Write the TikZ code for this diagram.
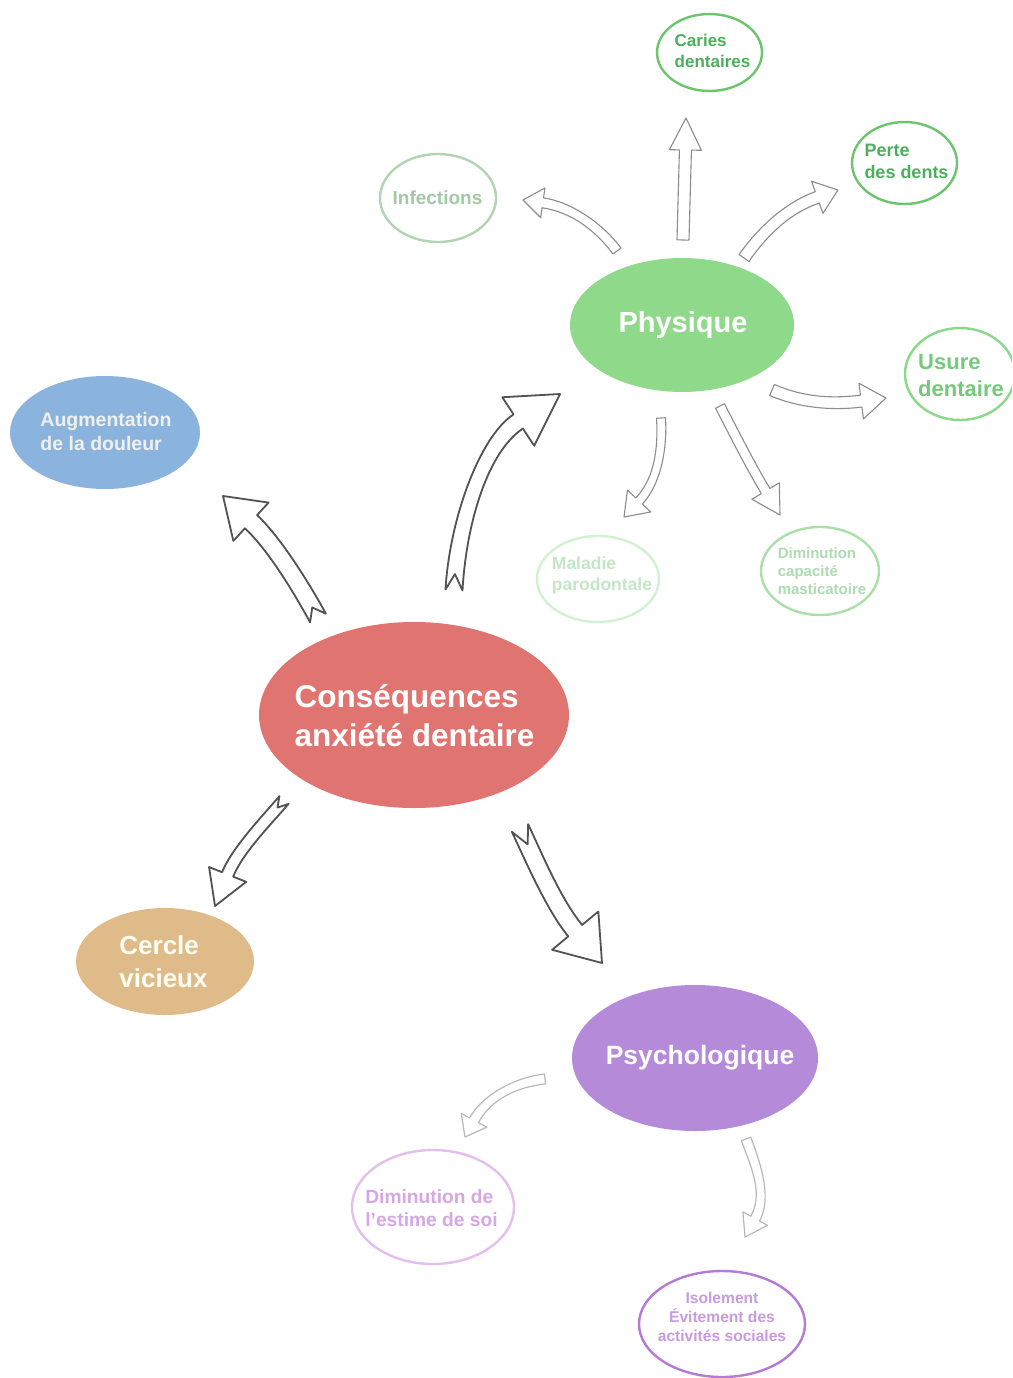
\documentclass[tikz,border=0pt]{standalone}
\usepackage{fontspec}
\setmainfont{Liberation Sans}
\usetikzlibrary{shapes.geometric,calc}

\definecolor{redfill}{HTML}{E07470}
\definecolor{greenfill}{HTML}{8FD98A}
\definecolor{bluefill}{HTML}{8AB4DD}
\definecolor{tanfill}{HTML}{DFBB8A}
\definecolor{purplefill}{HTML}{B48AD9}
\definecolor{gdark}{HTML}{6CC46C}
\definecolor{gdarkt}{HTML}{4DAE5C}
\definecolor{ginf}{HTML}{B2D4B2}
\definecolor{ginft}{HTML}{A3C8A6}
\definecolor{gusu}{HTML}{8AD88A}
\definecolor{gusut}{HTML}{76C97A}
\definecolor{gmal}{HTML}{D2F0D2}
\definecolor{gmalt}{HTML}{C3E6C5}
\definecolor{gmas}{HTML}{A8E0A8}
\definecolor{gmast}{HTML}{ADDCB0}
\definecolor{pest}{HTML}{E4BEEF}
\definecolor{pestt}{HTML}{D6A6E6}
\definecolor{piso}{HTML}{B47AD6}
\definecolor{pisot}{HTML}{C89AE0}

\newcommand\fsz[2]{\fontsize{#1}{#2}\selectfont\bfseries}

% #1 style, #2 start, #3 control1, #4 control2, #5 tip, #6 half shaft width,
% #7 half head width, #8 head length, #9 tail notch depth
\newcommand\hollowarrow[9]{%
  \coordinate (hSl) at ($(#2)!#6!90:(#3)$);
  \coordinate (hSr) at ($(#2)!#6!-90:(#3)$);
  \coordinate (hB) at ($(#5)!#8!(#4)$);
  \coordinate (hBl) at ($(hB)!#6!90:(#5)$);
  \coordinate (hBr) at ($(hB)!#6!-90:(#5)$);
  \coordinate (hHl) at ($(hB)!#7!90:(#5)$);
  \coordinate (hHr) at ($(hB)!#7!-90:(#5)$);
  \coordinate (hN) at ($(#2)!#9!(#3)$);
  \draw[#1] (hSl) .. controls ($(#3)+(hSl)-(#2)$) and ($(#4)+(hBl)-(hB)$) .. (hBl)
     -- (hHl) -- (#5) -- (hHr) -- (hBr)
     .. controls ($(#4)+(hBr)-(hB)$) and ($(#3)+(hSr)-(#2)$) .. (hSr)
     -- (hN) -- cycle;
}

\tikzset{
  bigarrow/.style={draw=black!68, line width=1.8pt, line join=round, fill=white},
  subarrow/.style={draw=black!45, line width=1.1pt, line join=round, fill=white},
  lightarrow/.style={draw=black!28, line width=1.2pt, line join=round, fill=white},
  filledell/.style={ellipse, inner sep=0pt, outer sep=0pt},
  outlineell/.style={ellipse, inner sep=0pt, outer sep=0pt, line width=2.4pt, fill=white},
  lbl/.style={inner sep=0pt, align=left},
}

\begin{document}
\begin{tikzpicture}[x=1pt,y=-1pt]
\useasboundingbox (0,0) rectangle (1012,1378);
\clip (0,0) rectangle (1012,1378);
\fill[white] (0,0) rectangle (1012,1378);

% ---- arrow coordinates ----
\coordinate (a1s) at (617,251); \coordinate (a1c) at (600,228); \coordinate (a1d) at (572,207); \coordinate (a1e) at (523,200);
\coordinate (a2s) at (683,240); \coordinate (a2c) at (684,200); \coordinate (a2d) at (685,170); \coordinate (a2e) at (686,118);
\coordinate (a3s) at (744,258); \coordinate (a3c) at (765,228); \coordinate (a3d) at (790,207); \coordinate (a3e) at (838,190);
\coordinate (a4s) at (772,390); \coordinate (a4c) at (800,402); \coordinate (a4d) at (830,405); \coordinate (a4e) at (886,398);
\coordinate (a5s) at (661,418); \coordinate (a5c) at (663,450); \coordinate (a5d) at (657,482); \coordinate (a5e) at (624,517);
\coordinate (a6s) at (720,406); \coordinate (a6c) at (735,435); \coordinate (a6d) at (750,465); \coordinate (a6e) at (780,515);
\coordinate (a7s) at (318,618); \coordinate (a7c) at (300,585); \coordinate (a7d) at (273,542); \coordinate (a7e) at (223,496);
\coordinate (a8s) at (454,590); \coordinate (a8c) at (458,520); \coordinate (a8d) at (484,444); \coordinate (a8e) at (560,394);
\coordinate (a9s) at (284,800); \coordinate (a9c) at (265,822); \coordinate (a9d) at (237,851); \coordinate (a9e) at (215,906);
\coordinate (a10s) at (520,828); \coordinate (a10c) at (535,860); \coordinate (a10d) at (554,905); \coordinate (a10e) at (602,963);
\coordinate (a11s) at (545,1079); \coordinate (a11c) at (515,1082); \coordinate (a11d) at (486,1098); \coordinate (a11e) at (465,1137);
\coordinate (a12s) at (746,1139); \coordinate (a12c) at (758,1170); \coordinate (a12d) at (767,1197); \coordinate (a12e) at (745,1237);

% ---- filled nodes ----
\node[filledell, fill=greenfill, minimum width=224pt, minimum height=134pt] (phys) at (682,325) {};
\node[lbl, text=white, font=\fsz{29}{34}] (physt) at (683,325) {Physique};
\node[filledell, fill=redfill, minimum width=310pt, minimum height=186pt] (cons) at (414,715) {};
\node[lbl, text=white, font=\fsz{31.5}{39}] (const) at (414.5,716) {Conséquences\\anxiété dentaire};
\node[filledell, fill=bluefill, minimum width=190pt, minimum height=113pt] (augm) at (105,432.5) {};
\node[lbl, text=white!94!black, font=\fsz{19.5}{24}] (augmt) at (106,432) {Augmentation\\de la douleur};
\node[filledell, fill=tanfill, minimum width=178pt, minimum height=107pt] (cerc) at (165,961.5) {};
\node[lbl, text=white!95!yellow, font=\fsz{26}{33}] (cerct) at (163.5,961.5) {Cercle\\vicieux};
\node[filledell, fill=purplefill, minimum width=246pt, minimum height=146pt] (psyc) at (695,1058) {};
\node[lbl, text=white, font=\fsz{26.5}{32}] (psyct) at (700,1058) {Psychologique};

% ---- outlined nodes ----
\node[outlineell, draw=gdark, minimum width=105pt, minimum height=77pt] (cari) at (709.5,52.5) {};
\node[lbl, text=gdarkt, font=\fsz{17}{21}] (carit) at (712.5,50.5) {Caries\\dentaires};
\node[outlineell, draw=gdark, minimum width=105pt, minimum height=82pt] (pert) at (904.5,163) {};
\node[lbl, text=gdarkt, font=\fsz{18}{22}] (pertt) at (906.5,161) {Perte\\des dents};
\node[outlineell, draw=ginf, minimum width=116pt, minimum height=88pt] (infe) at (438,198) {};
\node[lbl, text=ginft, font=\fsz{19}{23}] (infet) at (437.5,198) {Infections};
\node[outlineell, draw=gusu, minimum width=110pt, minimum height=92pt] (usur) at (960,374) {};
\node[lbl, text=gusut, font=\fsz{22}{27}] (usurt) at (961,375.5) {Usure\\dentaire};
\node[outlineell, draw=gmal, minimum width=122pt, minimum height=86pt] (mala) at (598,579) {};
\node[lbl, text=gmalt, font=\fsz{17.5}{21}] (malat) at (602,575.5) {Maladie\\parodontale};
\node[outlineell, draw=gmas, minimum width=118pt, minimum height=88pt] (mast) at (820,571) {};
\node[lbl, text=gmast, font=\fsz{15}{18}] (mastt) at (822,571) {Diminution\\capacité\\masticatoire};
\node[outlineell, draw=pest, minimum width=162pt, minimum height=114pt] (esti) at (433,1207) {};
\node[lbl, text=pestt, font=\fsz{19.2}{23}] (estit) at (431.5,1208.5) {Diminution de\\l’estime de soi};
\node[outlineell, draw=piso, minimum width=166pt, minimum height=106pt] (isol) at (722,1324) {};
\node[lbl, text=pisot, align=center, font=\fsz{15.6}{19}] (isolt) at (722,1317) {Isolement\\Évitement des\\activités sociales};

% ---- arrows ----
\hollowarrow{subarrow}{a1s}{a1c}{a1d}{a1e}{5pt}{15pt}{20pt}{0pt}
\hollowarrow{subarrow}{a2s}{a2c}{a2d}{a2e}{6pt}{16pt}{32pt}{0pt}
\hollowarrow{subarrow}{a3s}{a3c}{a3d}{a3e}{6pt}{17pt}{22pt}{0pt}
\hollowarrow{subarrow}{a4s}{a4c}{a4d}{a4e}{6pt}{18pt}{25pt}{0pt}
\hollowarrow{subarrow}{a5s}{a5c}{a5d}{a5e}{4.5pt}{16pt}{22pt}{0pt}
\hollowarrow{subarrow}{a6s}{a6c}{a6d}{a6e}{5pt}{16pt}{28pt}{0pt}
\hollowarrow{bigarrow}{a7s}{a7c}{a7d}{a7e}{9pt}{26pt}{38pt}{12pt}
\hollowarrow{bigarrow}{a8s}{a8c}{a8d}{a8e}{8.5pt}{29pt}{50pt}{16pt}
\hollowarrow{bigarrow}{a9s}{a9c}{a9d}{a9e}{6pt}{20pt}{34pt}{10pt}
\hollowarrow{bigarrow}{a10s}{a10c}{a10d}{a10e}{9pt}{30pt}{42pt}{18pt}
\hollowarrow{lightarrow}{a11s}{a11c}{a11d}{a11e}{5pt}{14.5pt}{19pt}{0pt}
\hollowarrow{lightarrow}{a12s}{a12c}{a12d}{a12e}{5pt}{14pt}{21pt}{0pt}
\end{tikzpicture}
\end{document}
